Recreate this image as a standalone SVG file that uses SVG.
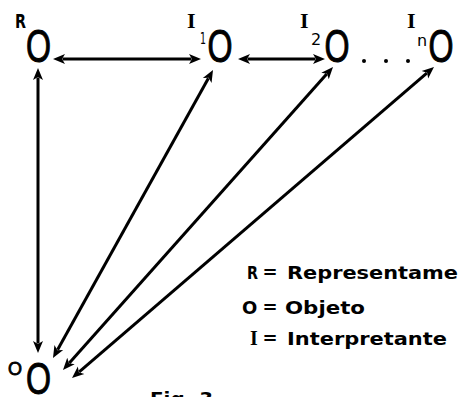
<svg xmlns="http://www.w3.org/2000/svg" width="462" height="397" viewBox="0 0 462 397">
<style>
.o{font-family:"Liberation Sans",Arial,sans-serif;font-size:46px;fill:#000;stroke:#000;stroke-width:1}
.lbl{font-family:"DejaVu Sans",sans-serif;font-weight:bold;font-size:20px;fill:#000}
.ilbl{font-family:"Liberation Serif",serif;font-weight:bold;font-size:22px;fill:#000}
.sub{font-family:"DejaVu Sans",sans-serif;font-size:16px;fill:#000}
.leg{font-family:"DejaVu Sans",sans-serif;font-weight:bold;font-size:18px;fill:#000}
.ln{stroke:#000;stroke-width:3;fill:none;marker-start:url(#ah);marker-end:url(#ah)}
</style>
<defs>
<marker id="ah" viewBox="0 -6 13 12" markerWidth="13" markerHeight="12" refX="2.5" refY="0" orient="auto-start-reverse" markerUnits="userSpaceOnUse">
<path d="M0,-5 L12,0 L0,5 L3,0 z" fill="#000"/>
</marker>
</defs>
<rect width="462" height="397" fill="#fff"/>
<g id="connectors">
<line class="ln" x1="62.5" y1="59" x2="191.5" y2="59"/>
<line class="ln" x1="247.5" y1="59" x2="315.5" y2="59"/>
<line class="ln" x1="38" y1="77.5" x2="38" y2="343.5"/>
<line class="ln" x1="208.4" y1="78.3" x2="57.6" y2="349.7"/>
<line class="ln" x1="326.7" y1="74.1" x2="69.3" y2="362.9"/>
<line class="ln" x1="426.8" y1="73.2" x2="79.2" y2="371.8"/>
</g>
<g id="node-R">
<text class="lbl" x="15" y="28" textLength="11" lengthAdjust="spacingAndGlyphs">R</text>
<text class="o" text-anchor="middle" transform="translate(38.5,61.5) scale(0.7,1)">O</text>
</g>
<g id="node-I1">
<text class="ilbl" x="187" y="28">I</text>
<text class="sub" x="200" y="44" textLength="6" lengthAdjust="spacingAndGlyphs">1</text>
<text class="o" text-anchor="middle" transform="translate(220,61.5) scale(0.7,1)">O</text>
</g>
<g id="node-I2">
<text class="ilbl" x="300" y="28">I</text>
<text class="sub" x="311" y="45">2</text>
<text class="o" text-anchor="middle" transform="translate(337,61.5) scale(0.7,1)">O</text>
</g>
<g id="dots">
<circle cx="364" cy="61" r="2" fill="#000"/>
<circle cx="386" cy="61" r="2" fill="#000"/>
<circle cx="408" cy="61" r="2" fill="#000"/>
</g>
<g id="node-In">
<text class="ilbl" x="407" y="28">I</text>
<text class="sub" x="417" y="46">n</text>
<text class="o" text-anchor="middle" transform="translate(441,61.5) scale(0.7,1)">O</text>
</g>
<g id="node-O">
<text class="o" style="font-size:18px;stroke-width:0.8" x="8" y="375">O</text>
<text class="o" text-anchor="middle" transform="translate(38.5,394) scale(0.7,0.95)">O</text>
</g>
<g id="legend">
<text class="leg" x="247" y="279" textLength="11" lengthAdjust="spacingAndGlyphs">R</text>
<text class="leg" x="270" y="278" text-anchor="middle">=</text>
<text class="leg" x="287" y="279" textLength="171" lengthAdjust="spacingAndGlyphs">Representame</text>
<text class="leg" x="242" y="314">O</text>
<text class="leg" x="270" y="313" text-anchor="middle">=</text>
<text class="leg" x="285" y="314" textLength="80" lengthAdjust="spacingAndGlyphs">Objeto</text>
<text class="ilbl" style="font-size:20px" x="250" y="345">I</text>
<text class="leg" x="270" y="344" text-anchor="middle">=</text>
<text class="leg" x="287" y="345" textLength="160" lengthAdjust="spacingAndGlyphs">Interpretante</text>
</g>
<text class="leg" x="150" y="405" textLength="63" lengthAdjust="spacingAndGlyphs">Fig. 3</text>
</svg>
